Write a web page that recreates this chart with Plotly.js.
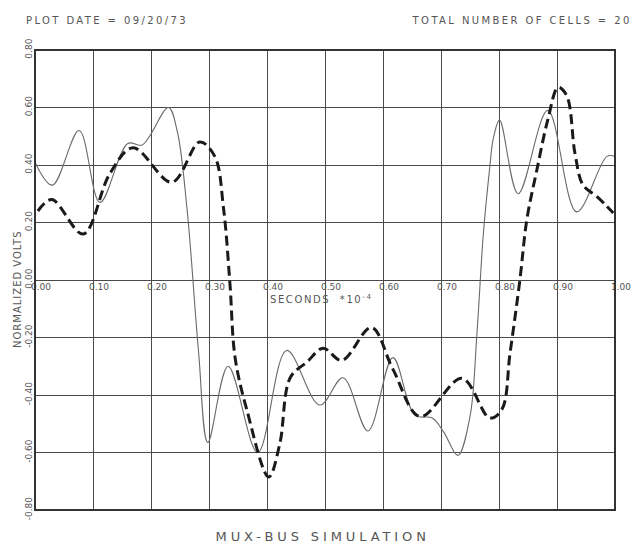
<!DOCTYPE html>
<html>
<head>
<meta charset="utf-8">
<script src="https://cdn.plot.ly/plotly-3.0.1.min.js"></script>
<style>
  html, body { margin: 0; padding: 0; background: #ffffff; }
  #chart { width: 639px; height: 544px; }
  .annotation-text { letter-spacing: 1.6px; }
  .annotation[data-index="0"] .annotation-text,
  .annotation[data-index="1"] .annotation-text { letter-spacing: 2.4px; }
  .annotation[data-index="2"] .annotation-text { letter-spacing: 1.0px; }
  .gtitle { letter-spacing: 3.9px; }
</style>
</head>
<body>
<div id="chart"></div>
<script>
// Time axis (seconds x 10^-4) and normalized voltage for the two waveforms
const thinX = [0.000, 0.030, 0.076, 0.112, 0.160, 0.185, 0.230, 0.245, 0.262, 0.282, 0.298,
               0.333, 0.384, 0.434, 0.491, 0.531, 0.574, 0.617, 0.655, 0.685, 0.705, 0.729,
               0.750, 0.762, 0.773, 0.784, 0.790, 0.801, 0.833, 0.884, 0.934, 0.986, 1.000];
const thinY = [0.41, 0.33, 0.52, 0.27, 0.475, 0.47, 0.60, 0.52, 0.25, -0.25, -0.565,
               -0.30, -0.60, -0.245, -0.435, -0.34, -0.525, -0.27, -0.47, -0.48, -0.53, -0.61,
               -0.475, -0.185, 0.16, 0.39, 0.49, 0.556, 0.30, 0.59, 0.237, 0.43, 0.43];

const dashX = [0.005, 0.029, 0.083, 0.129, 0.169, 0.236, 0.284, 0.310, 0.325, 0.336, 0.345,
               0.365, 0.403, 0.422, 0.440, 0.469, 0.497, 0.529, 0.580, 0.617, 0.664, 0.736,
               0.784, 0.805, 0.819, 0.836, 0.848, 0.865, 0.884, 0.902, 0.917, 0.931, 0.945,
               0.969, 0.997];
const dashY = [0.24, 0.28, 0.16, 0.37, 0.46, 0.34, 0.48, 0.43, 0.25, -0.01, -0.27,
               -0.45, -0.685, -0.57, -0.34, -0.285, -0.237, -0.28, -0.165, -0.31, -0.475, -0.342,
               -0.48, -0.45, -0.255, 0.0, 0.21, 0.38, 0.556, 0.67, 0.64, 0.44, 0.33,
               0.29, 0.233];

const xTickVals = [0, 0.1, 0.2, 0.3, 0.4, 0.5, 0.6, 0.7, 0.8, 0.9, 1.0];
const xTickText = ['0.00', '0.10', '0.20', '0.30', '0.40', '0.50', '0.60', '0.70', '0.80', '0.90', '1.00'];
const yTickVals = [-0.8, -0.6, -0.4, -0.2, 0, 0.2, 0.4, 0.6, 0.8];
const yTickText = ['-0.80', '-0.60', '-0.40', '-0.20', '0.00', '0.20', '0.40', '0.60', '0.80'];

const ink = '#4a4a4a';
const penFont = { family: 'DejaVu Sans, sans-serif', color: '#555555' };

const traces = [
  {
    x: thinX, y: thinY, mode: 'lines', type: 'scatter',
    line: { color: '#6a6a6a', width: 1.1, shape: 'spline', smoothing: 1 },
    hoverinfo: 'skip'
  },
  {
    x: dashX, y: dashY, mode: 'lines', type: 'scatter',
    line: { color: '#1a1a1a', width: 3, dash: '10px,5px', shape: 'spline', smoothing: 1 },
    hoverinfo: 'skip'
  }
];

const layout = {
  width: 639, height: 544,
  margin: { l: 35, r: 24, t: 50, b: 34 },
  paper_bgcolor: '#ffffff', plot_bgcolor: '#ffffff',
  showlegend: false,
  title: {
    text: 'MUX-BUS SIMULATION',
    font: { family: 'DejaVu Sans, sans-serif', size: 13, color: '#555555' },
    x: 0.505, xanchor: 'center', y: 0.005, yanchor: 'bottom', yref: 'container'
  },
  xaxis: {
    range: [0, 1], anchor: 'free', position: 0.5,
    tickvals: xTickVals, ticktext: xTickText,
    showgrid: true, gridcolor: ink, gridwidth: 1,
    zeroline: false, showline: false, ticks: '',
    ticklabelshift: 6, ticklabelstandoff: 0,
    tickfont: { family: penFont.family, size: 9, color: penFont.color }
  },
  yaxis: {
    range: [-0.8, 0.8],
    tickvals: yTickVals, ticktext: yTickText, tickangle: -90,
    showgrid: true, gridcolor: ink, gridwidth: 1,
    zeroline: false, showline: false, ticks: '',
    ticklabelstandoff: 0,
    tickfont: { family: penFont.family, size: 9, color: penFont.color }
  },
  shapes: [
    { type: 'rect', xref: 'paper', yref: 'paper', x0: 0, x1: 1, y0: 0, y1: 1,
      line: { color: '#333333', width: 2 }, layer: 'above' }
  ],
  annotations: [
    { text: 'PLOT DATE = 09/20/73', xref: 'paper', yref: 'paper', x: -0.005, y: 1.065,
      xanchor: 'left', yanchor: 'middle', showarrow: false,
      font: { family: penFont.family, size: 10, color: penFont.color } },
    { text: 'TOTAL NUMBER OF CELLS = 20', xref: 'paper', yref: 'paper', x: 1.014, y: 1.065,
      xanchor: 'right', yanchor: 'middle', showarrow: false,
      font: { family: penFont.family, size: 10, color: penFont.color } },
    { text: 'NORMALIZED VOLTS', xref: 'paper', yref: 'paper', x: -0.03, y: 0.48,
      xanchor: 'center', yanchor: 'middle', textangle: -90, showarrow: false,
      font: { family: penFont.family, size: 10, color: penFont.color } },
    { text: 'SECONDS  *10<sup>-4</sup>', xref: 'x', yref: 'y', x: 0.494, y: -0.065,
      xanchor: 'center', yanchor: 'middle', showarrow: false,
      font: { family: penFont.family, size: 10, color: penFont.color } }
  ]
};

Plotly.newPlot('chart', traces, layout, { staticPlot: true, displayModeBar: false });
</script>
</body>
</html>
